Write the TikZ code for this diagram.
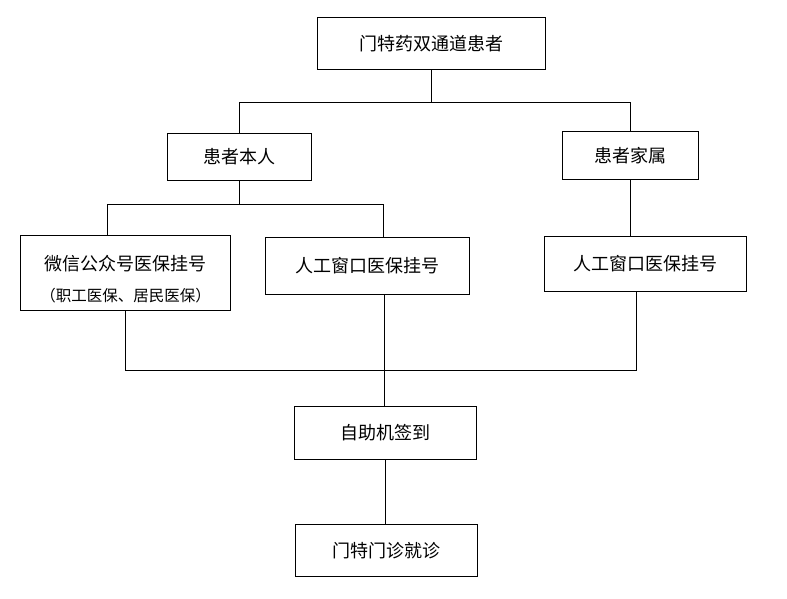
\documentclass[tikz,border=0pt]{standalone}
\usepackage{fontspec}
\newfontfamily\cjk{Noto Sans CJK SC}
\begin{document}
\begin{tikzpicture}[x=1pt,y=-1pt,
	box/.style={draw,line width=1.1pt,inner sep=0pt,align=center,font=\cjk\fontsize{18}{21}\selectfont},
	link/.style={line width=1.1pt}]
	\useasboundingbox (0,0) rectangle (787,599);
	
	\node[box,minimum width=228pt,minimum height=52pt] (top) at (431.5,43.3) {门特药双通道患者};
	\node[box,minimum width=144pt,minimum height=47pt] (self) at (239.5,156.8) {患者本人};
	\node[box,minimum width=136pt,minimum height=48pt] (family) at (630.5,155.3) {患者家属};
	\node[box,minimum width=210pt,minimum height=75pt] (wechat) at (125.5,272.8) {\rule{0pt}{27pt}微信公众号医保挂号\\[10pt]{\fontsize{15.5}{18}\selectfont（职工医保、居民医保）}};
	\node[box,minimum width=204pt,minimum height=57pt] (windowA) at (367.3,265.8) {人工窗口医保挂号};
	\node[box,minimum width=202pt,minimum height=55pt] (windowB) at (645.5,263.7) {人工窗口医保挂号};
	\node[box,minimum width=182pt,minimum height=53pt] (signin) at (385.5,432.7) {自助机签到};
	\node[box,minimum width=182pt,minimum height=52pt] (clinic) at (386.5,550.2) {门特门诊就诊};
	
	\coordinate (j1) at (431.5,102.3);
	\coordinate (j2) at (239.5,204.3);
	\coordinate (j3) at (384.5,370.3);
	
	\draw[link] (top.south) -- (j1);
	\draw[link] (self.north) |- (j1) -| (family.north);
	\draw[link] (self.south) -- (j2);
	\draw[link] ([xshift=-18pt]wechat.north) |- (j2) -| ([xshift=16pt]windowA.north);
	\draw[link] (family.south) -- (family.south |- windowB.north);
	\draw[link] (wechat.south) |- (j3);
	\draw[link] ([xshift=17.2pt]windowA.south) -- (j3) -- (j3 |- signin.north);
	\draw[link] ([xshift=-9pt]windowB.south) |- (j3);
	\draw[link] (signin.south) -- (clinic.north -| signin.south);
	
\end{tikzpicture}
\end{document}
